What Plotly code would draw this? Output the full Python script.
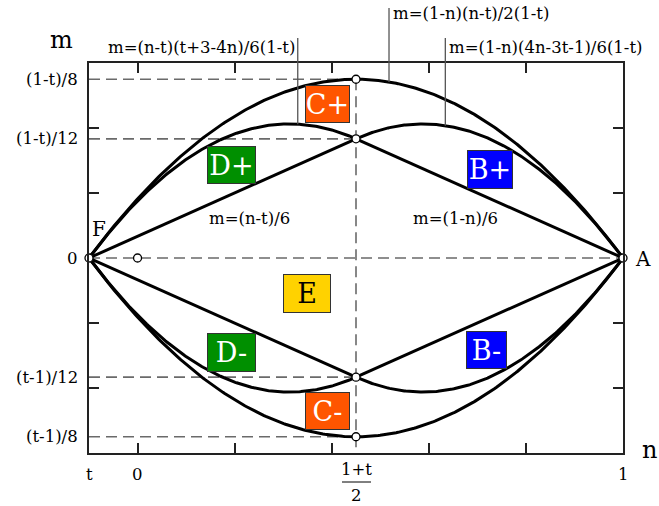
import numpy as np
import plotly.graph_objects as go

# ---- data ----
t = -0.1
mid = (1 + t) / 2
top_val = (1 - t) / 8
upp_val = (1 - t) / 12

x_tick_vals = [0, 0.2, 0.4, 0.6, 0.8]
y_tick_vals = [-0.1, -0.05, 0.05, 0.1]
y_label_vals = [top_val, upp_val, 0, -upp_val, -top_val]
y_label_text = ["(1-t)/8", "(1-t)/12", "0", "(t-1)/12", "(t-1)/8"]
x_label_vals = [t, 0, 1]
x_label_text = ["t", "0", "1"]

region_names = ["C+", "D+", "B+", "E", "D-", "B-", "C-"]
region_colors = ["#FF5500", "#008F00", "#0000FF", "#FFD200", "#008F00", "#0000FF", "#FF5500"]
region_text_colors = ["white", "white", "white", "black", "white", "white", "white"]

formula_labels = ["m=(n-t)(t+3-4n)/6(1-t)", "m=(1-n)(n-t)/2(1-t)", "m=(1-n)(4n-3t-1)/6(1-t)"]
leader_n = [0.33, 0.518, 0.634]
line_labels = ["m=(n-t)/6", "m=(1-n)/6"]

special_x = [t, 1, 0, mid, mid, mid, mid]
special_y = [0, 0, 0, top_val, upp_val, -upp_val, -top_val]

# ---- curves (as given by the labelled formulas) ----
def P(n):
    return (1 - n) * (n - t) / (2 * (1 - t))

def Lh(n):
    return (n - t) * (t + 3 - 4 * n) / (6 * (1 - t))

def Rh(n):
    return (1 - n) * (4 * n - 3 * t - 1) / (6 * (1 - t))

n_full = np.linspace(t, 1, 300)
n_left = np.linspace(t, mid, 200)
n_right = np.linspace(mid, 1, 200)

# ---- layout geometry ----
W, H = 659, 506
L, R, T, B = 89, 623, 63, 453
XR = [t, 1]
YR = [-0.15, 0.15]

def px(x):
    return (x - L) / (R - L)

def py(y):
    return (B - y) / (B - T)

def dx(v):
    return (v - XR[0]) / (XR[1] - XR[0])

def dy(v):
    return (v - YR[0]) / (YR[1] - YR[0])

FONT = "DejaVu Serif"
fig = go.Figure()

curve_style = dict(mode="lines", line=dict(color="black", width=3), hoverinfo="skip", showlegend=False)
for sgn in (1, -1):
    fig.add_trace(go.Scatter(x=n_full, y=sgn * P(n_full), **curve_style))
    fig.add_trace(go.Scatter(x=n_left, y=sgn * Lh(n_left), **curve_style))
    fig.add_trace(go.Scatter(x=n_right, y=sgn * Rh(n_right), **curve_style))
    fig.add_trace(go.Scatter(x=[t, mid], y=[0, sgn * (mid - t) / 6], **curve_style))
    fig.add_trace(go.Scatter(x=[mid, 1], y=[sgn * (1 - mid) / 6, 0], **curve_style))

fig.add_trace(go.Scatter(x=special_x, y=special_y, mode="markers", cliponaxis=False,
                         marker=dict(size=8, color="white", line=dict(color="black", width=1.3)),
                         hoverinfo="skip", showlegend=False))

shapes = []
dash = dict(color="#6a6a6a", width=1.6, dash="11px,6px")
for v in [top_val, upp_val, -upp_val, -top_val]:
    shapes.append(dict(type="line", xref="x", yref="y", x0=t, x1=mid, y0=v, y1=v, line=dash, layer="below"))
shapes.append(dict(type="line", xref="x", yref="y", x0=t, x1=1, y0=0, y1=0, line=dash, layer="below"))
shapes.append(dict(type="line", xref="x", yref="y", x0=mid, x1=mid, y0=top_val, y1=YR[0], line=dash, layer="below"))

# leader lines from formula labels to curves
leader_funcs = [Lh, P, Rh]
leader_tops = [38, 8, 38]
for nval, f, ytop in zip(leader_n, leader_funcs, leader_tops):
    shapes.append(dict(type="line", xref="paper", yref="paper", x0=dx(nval), x1=dx(nval),
                       y0=dy(f(nval)), y1=py(ytop), line=dict(color="#555", width=1.3)))

# fraction bar
shapes.append(dict(type="line", xref="paper", yref="paper", x0=px(342), x1=px(371),
                   y0=py(482), y1=py(482), line=dict(color="black", width=1)))

ann = []
def text(x, y, s, size=15, xanchor="center", yanchor="middle", color="black"):
    ann.append(dict(x=px(x), y=py(y), xref="paper", yref="paper", text=s, showarrow=False,
                    xanchor=xanchor, yanchor=yanchor, font=dict(family=FONT, size=size, color=color)))

for v, s in zip(y_label_vals, y_label_text):
    ann.append(dict(x=px(80), y=v, xref="paper", yref="y", text=s, showarrow=False,
                    xanchor="right", yanchor="middle", font=dict(family=FONT, size=16.5, color="black")))
for v, s in zip(x_label_vals, x_label_text):
    ann.append(dict(x=v, y=py(474), xref="x", yref="paper", text=s, showarrow=False,
                    xanchor="center", yanchor="middle", font=dict(family=FONT, size=16.5, color="black")))
text(356, 469, "1+t", 16.5)
text(356, 495, "2", 16.5)

text(61, 40, "m", 24)
text(649, 450, "n", 24)
text(99, 229, "F", 20)
text(643, 259, "A", 20)

text(297, 48, formula_labels[0], 16.5, xanchor="right")
text(391, 13, formula_labels[1], 16.5, xanchor="left")
text(447, 48, formula_labels[2], 16.5, xanchor="left")
text(249, 218, line_labels[0], 16.5)
text(455, 218, line_labels[1], 16.5)

# region boxes (x0, x1, y0, y1) in pixels
boxes = [(305, 350, 85, 123), (207, 256, 146, 184), (467, 513, 150, 189), (283, 331, 274, 313),
         (207, 256, 333, 372), (466, 507, 331, 369), (305, 350, 392, 430)]
for name, col, tcol, (x0, x1, y0, y1) in zip(region_names, region_colors, region_text_colors, boxes):
    ann.append(dict(x=px((x0 + x1) / 2), y=py((y0 + y1) / 2), xref="paper", yref="paper",
                    text=name, showarrow=False, xanchor="center", yanchor="middle",
                    width=x1 - x0 - 2, height=y1 - y0 - 2, bgcolor=col, bordercolor="#333",
                    borderwidth=1, borderpad=0, align="center", valign="middle",
                    font=dict(family=FONT, size=27, color=tcol)))

axis_common = dict(showgrid=False, zeroline=False, showline=True, linecolor="#222", linewidth=1.8,
                   mirror="ticks", ticks="inside", ticklen=10, tickwidth=1.5, tickcolor="#222",
                   showticklabels=False, fixedrange=True)
fig.update_layout(
    width=W, height=H,
    margin=dict(l=L, r=W - R, t=T, b=H - B),
    paper_bgcolor="white", plot_bgcolor="white",
    xaxis=dict(range=XR, tickvals=x_tick_vals, **axis_common),
    yaxis=dict(range=YR, tickvals=y_tick_vals, **axis_common),
    shapes=shapes, annotations=ann, showlegend=False,
)

fig.write_html("out.html")
